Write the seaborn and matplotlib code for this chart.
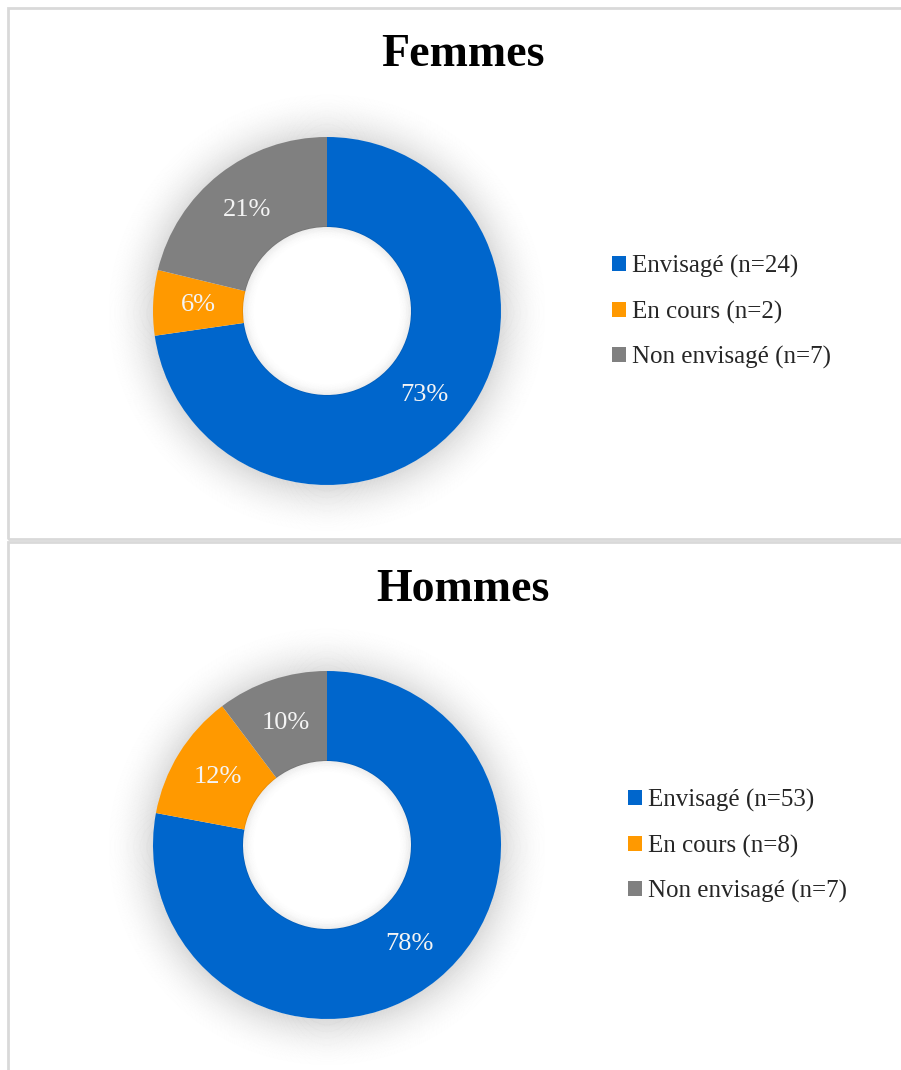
import numpy as np
import matplotlib.pyplot as plt
import seaborn as sns
from matplotlib.patches import Patch, Rectangle, Wedge

# data
groups = ["Femmes", "Hommes"]
categories = ["Envisagé", "En cours", "Non envisagé"]
counts_femmes = [24, 2, 7]
counts_hommes = [53, 8, 7]
colors = ["#0066CC", "#FF9900", "#808080"]

sns.set_theme(style="white")
plt.rcParams["font.family"] = ["Liberation Serif", "DejaVu Serif"]

W, H = 901, 1070
fig = plt.figure(figsize=(W / 100, H / 100), dpi=100)
fig.patch.set_facecolor("white")


def fx(px):
    return px / W


def fy(py):
    return 1 - py / H


# panel borders
for top, bottom in [(8, 539), (542, 1080)]:
    fig.add_artist(Rectangle((fx(8), fy(bottom)), fx(920) - fx(8), fy(top) - fy(bottom),
                             transform=fig.transFigure, fill=False,
                             edgecolor="#D9D9D9", linewidth=2))

R_OUT = 174  # px
HALF = 260   # px half size of the pie axes
LIM = HALF / R_OUT
inner = 84 / R_OUT


def draw_donut(counts, title, cy, title_y, leg_x):
    cx = 327
    ax = fig.add_axes([fx(cx - HALF), fy(cy + HALF), 2 * HALF / W, 2 * HALF / H])
    ax.set_xlim(-LIM, LIM)
    ax.set_ylim(-LIM, LIM)
    ax.set_aspect("equal")
    ax.axis("off")

    # soft outer shadow
    n = 60
    spread = 0.30
    for i in range(n):
        r = 0.99 + spread * (i + 1) / n
        ax.add_patch(Wedge((0, -0.01), r, 0, 360, width=spread / n + 0.001,
                           facecolor="#000000", alpha=0.12 * (1 - i / n) ** 2,
                           linewidth=0))

    ax.pie(
        counts, colors=colors, startangle=90, counterclock=False, radius=1,
        autopct="%1.0f%%", pctdistance=0.74,
        wedgeprops=dict(width=1 - inner, linewidth=0),
        textprops=dict(color="#F4F4F4", fontsize=19),
    )
    # inner shadow of the hole
    for i in range(20):
        r = inner + 0.005 - 0.08 * i / 20
        ax.add_patch(Wedge((0, 0), r, 0, 360, width=0.08 / 20 + 0.001,
                           facecolor="#000000", alpha=0.07 * (1 - i / 20) ** 2,
                           linewidth=0))
    ax.set_xlim(-LIM, LIM)
    ax.set_ylim(-LIM, LIM)

    fig.text(fx(463), fy(title_y), title, ha="center", va="center",
             fontsize=33, fontweight="bold", color="black")

    labels = [f"{c} (n={v})" for c, v in zip(categories, counts)]
    handles = [Patch(facecolor=col, edgecolor="none") for col in colors]
    leg = fig.legend(handles, labels, loc="center left",
                     bbox_to_anchor=(fx(leg_x), fy(cy + 1)),
                     frameon=False, fontsize=18, handlelength=0.55, handleheight=0.55,
                     handletextpad=0.25, labelspacing=0.9, borderpad=0,
                     borderaxespad=0)
    for t in leg.get_texts():
        t.set_color("#262626")


draw_donut(counts_femmes, groups[0], 311, 55, 612)
draw_donut(counts_hommes, groups[1], 845, 590, 628)

fig.savefig("out.png", dpi=100, facecolor="white")
